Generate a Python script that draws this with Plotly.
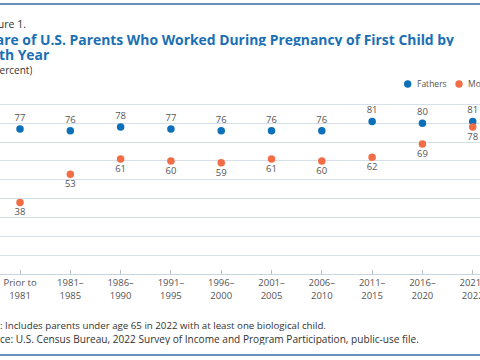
import plotly.graph_objects as go

categories = ["Prior to<br>1981", "1981–<br>1985", "1986–<br>1990", "1991–<br>1995", "1996–<br>2000",
              "2001–<br>2005", "2006–<br>2010", "2011–<br>2015", "2016–<br>2020", "2021–<br>2022"]
fathers = [77, 76, 78, 77, 76, 76, 76, 81, 80, 81]
mothers = [38, 53, 61, 60, 59, 61, 60, 62, 69, 78]
series_names = ["Fathers", "Mothers"]

FATHER_C = "#0B70B8"
MOTHER_C = "#F26C45"
TITLE_C = "#1A6FB5"
FONT = "Open Sans"

W, H = 480, 360
TOP, BOTTOM = 95, 274  # plot area pixel rows


def py(p):
    return (H - p) / H


def px(p):
    return p / W


fig = go.Figure()
fig.add_trace(go.Scatter(
    x=list(range(len(categories))), y=fathers, mode="markers+text", name=series_names[0],
    marker=dict(color=FATHER_C, size=7.5), text=[str(v) for v in fathers],
    textposition="top center", textfont=dict(family=FONT, size=9.5, color="#555555"),
    showlegend=False, cliponaxis=False))
fig.add_trace(go.Scatter(
    x=list(range(len(categories))), y=mothers, mode="markers+text", name=series_names[1],
    marker=dict(color=MOTHER_C, size=7.5), text=[str(v) for v in mothers],
    textposition="bottom center", textfont=dict(family=FONT, size=9.5, color="#555555"),
    showlegend=False, cliponaxis=False))

ann = [
    dict(text="Figure 1.", x=px(-18), y=py(23), height=13, font=dict(size=10.5, color="#333333", family=FONT)),
    dict(text="<b>Share of U.S. Parents Who Worked During Pregnancy of First Child by</b>",
         x=px(-23), y=py(39), height=14, font=dict(size=13.9, color=TITLE_C, family=FONT)),
    dict(text="<b>Birth Year</b>", x=px(-23), y=py(54), height=14, font=dict(size=13.9, color=TITLE_C, family=FONT)),
    dict(text="(In percent)", x=px(-23), y=py(69), height=13, font=dict(size=10, color="#333333", family=FONT)),
    dict(text="Note: Includes parents under age 65 in 2022 with at least one biological child.",
         x=px(-24), y=py(325), height=12, font=dict(size=9.7, color="#333333", family=FONT)),
    dict(text="Source: U.S. Census Bureau, 2022 Survey of Income and Program Participation, public-use file.",
         x=px(-24), y=py(339), height=12, font=dict(size=10.1, color="#333333", family=FONT)),
    dict(text=series_names[0], x=px(414.5), y=py(84), font=dict(size=8.5, color="#555555", family=FONT)),
    dict(text=series_names[1], x=px(465.5), y=py(84), font=dict(size=8.5, color="#555555", family=FONT)),
]
annotations = []
for a in ann:
    a.update(xref="paper", yref="paper", xanchor="left", yanchor="middle", showarrow=False)
    annotations.append(a)

shapes = []
for cx, col in [(407.7, FATHER_C), (459, MOTHER_C)]:
    shapes.append(dict(type="circle", xref="paper", yref="paper", xsizemode="pixel", ysizemode="pixel",
                       xanchor=px(cx), yanchor=py(84), x0=-3.7, x1=3.7, y0=-3.7, y1=3.7,
                       fillcolor=col, line=dict(width=0)))
# thin framing rules above the title and below the notes
for yy in (4, 355):
    shapes.append(dict(type="rect", xref="paper", yref="paper", xsizemode="scaled", ysizemode="pixel",
                       x0=0, x1=1, yanchor=py(yy), y0=-1, y1=1,
                       fillcolor="#6A8FB8", line=dict(width=0), layer="above"))

fig.update_layout(
    width=W, height=H,
    margin=dict(l=0, r=0, t=0, b=0, pad=0, autoexpand=False),
    paper_bgcolor="white", plot_bgcolor="white",
    font=dict(family=FONT, color="#555555"),
    xaxis=dict(
        domain=[0, 1],
        range=[-0.398, 9.145], tickmode="array", tickvals=list(range(len(categories))),
        ticktext=categories, showgrid=False, zeroline=False, automargin=False,
        showline=True, linecolor="#C9D5DE", linewidth=1,
        ticks="inside", ticklen=4, tickcolor="#B5C0C8",
        tickfont=dict(size=9.5, color="#555555", family=FONT), ticklabeloverflow="allow"),
    yaxis=dict(
        domain=[py(BOTTOM), py(TOP)],
        range=[0, 95], dtick=10, showticklabels=False, showgrid=True, automargin=False,
        gridcolor="#D5E0E8", gridwidth=1, zeroline=False, showline=False),
    annotations=annotations,
    shapes=shapes,
)

fig.write_html("out.html", config={"displayModeBar": False},
               post_script="document.body.style.margin='0';document.body.style.overflow='hidden';")
